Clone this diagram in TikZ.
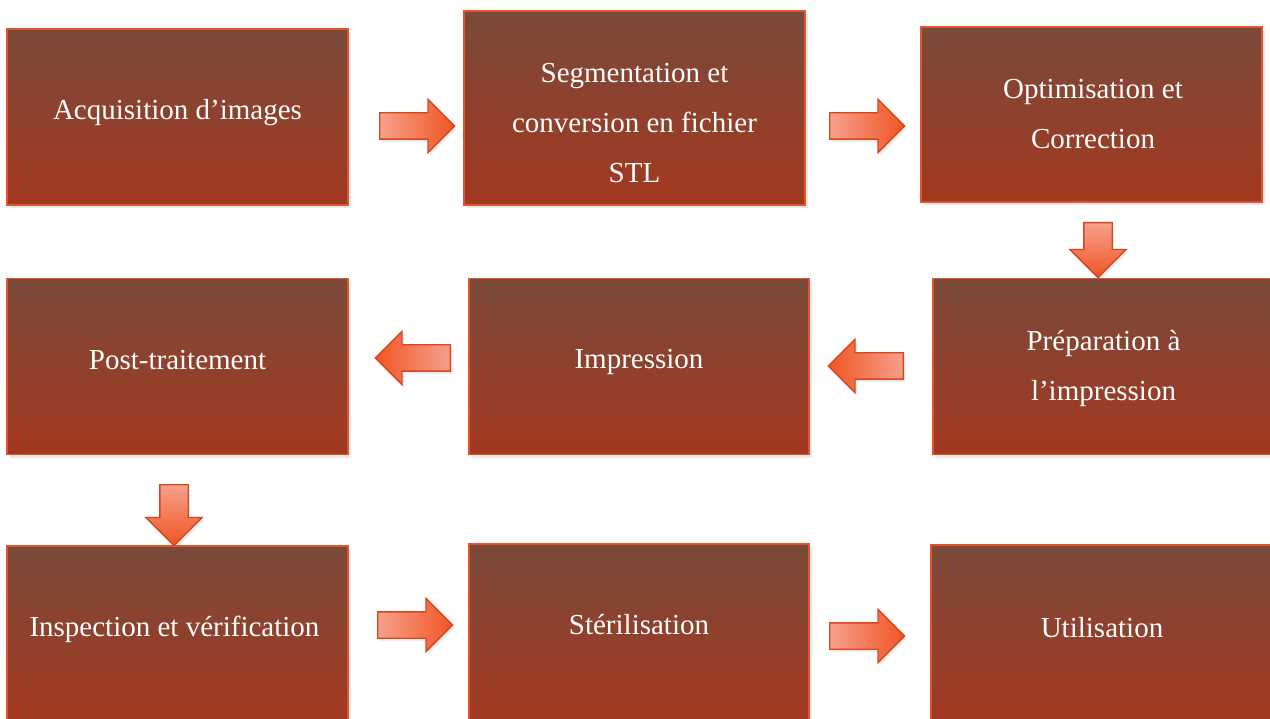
\documentclass[tikz,border=0pt]{standalone}
\usepackage{fontspec}
\setmainfont{Liberation Serif}
\usepackage{tikz}
\usetikzlibrary{shapes.arrows,shadows}
\definecolor{boxtop}{HTML}{7A4A3A}
\definecolor{boxbot}{HTML}{A33820}
\definecolor{boxline}{HTML}{E2542C}
\definecolor{arrlight}{HTML}{F6A08C}
\definecolor{arrdark}{HTML}{F05524}
\definecolor{arrline}{HTML}{D8461E}
\tikzset{
  stepbox/.style={rectangle,draw=boxline,line width=1.5pt,top color=boxtop,bottom color=boxbot,
    minimum width=341pt,minimum height=176pt,inner sep=0pt,
    drop shadow={shadow xshift=3pt,shadow yshift=-3pt,opacity=0.18}},
  steptxt/.style={text=white,align=center,font=\fontsize{29}{50}\selectfont,inner sep=0pt},
  flow/.style={single arrow,draw=arrline,line width=1.3pt,inner sep=0pt,anchor=tail,
    text width=25pt,text height=12.5pt,text depth=12.5pt,
    single arrow head extend=13.5pt,minimum height=75pt,
    drop shadow={shadow xshift=2pt,shadow yshift=-3pt,opacity=0.15}},
  flowdown/.style={flow,shape border rotate=270,top color=arrlight,bottom color=arrdark,
    text width=27pt,text height=13.5pt,text depth=13.5pt,single arrow head extend=14pt}
}
\begin{document}
\begin{tikzpicture}[x=1pt,y=-1pt]
  \useasboundingbox (0,0) rectangle (1270,719);
  \fill[white] (0,0) rectangle (1270,719);
  % row 1
  \node[stepbox] (acq) at (177.5,117) {};
  \node[stepbox,minimum height=194pt] (seg) at (634.5,108) {};
  \node[stepbox,minimum height=175pt] (opt) at (1091.5,114.5) {};
  % row 2
  \node[stepbox] (post) at (177.5,366.5) {};
  \node[stepbox,minimum width=340pt] (imp) at (639,366.5) {};
  \node[stepbox] (prep) at (1103.5,366.5) {};
  % row 3
  \node[stepbox] (insp) at (177.5,634) {};
  \node[stepbox,minimum width=340pt] (ster) at (639,632) {};
  \node[stepbox] (util) at (1101.5,633) {};
  % texts
  \node[steptxt] (acq-t) at (177.5,113) {Acquisition d’images};
  \node[steptxt] (seg-t) at (634.5,123) {Segmentation et\\conversion en fichier\\STL};
  \node[steptxt] (opt-t) at (1093,114) {Optimisation et\\Correction};
  \node[steptxt] (post-t) at (177.5,360) {Post-traitement};
  \node[steptxt] (imp-t) at (639,362) {Impression};
  \node[steptxt] (prep-t) at (1103.5,368.5) {Préparation à\\l’impression};
  \node[steptxt] (insp-t) at (174.5,629) {Inspection et vérification};
  \node[steptxt] (ster-t) at (639,625) {Stérilisation};
  \node[steptxt] (util-t) at (1102,628) {Utilisation};
  % block arrows
  \foreach \nm/\px/\py in {a1/379/126, a2/829/126, a7/377/625, a8/829/636}
    \node[flow,left color=arrlight,right color=arrdark] (\nm) at (\px,\py) {};
  \foreach \nm/\px/\py in {a4/904/366, a5/451/358}
    \node[flow,shape border rotate=180,left color=arrdark,right color=arrlight] (\nm) at (\px,\py) {};
  \node[flowdown,minimum height=55pt] (a3) at (1098,222) {};
  \node[flowdown,minimum height=61pt] (a6) at (174,484) {};
\end{tikzpicture}
\end{document}
